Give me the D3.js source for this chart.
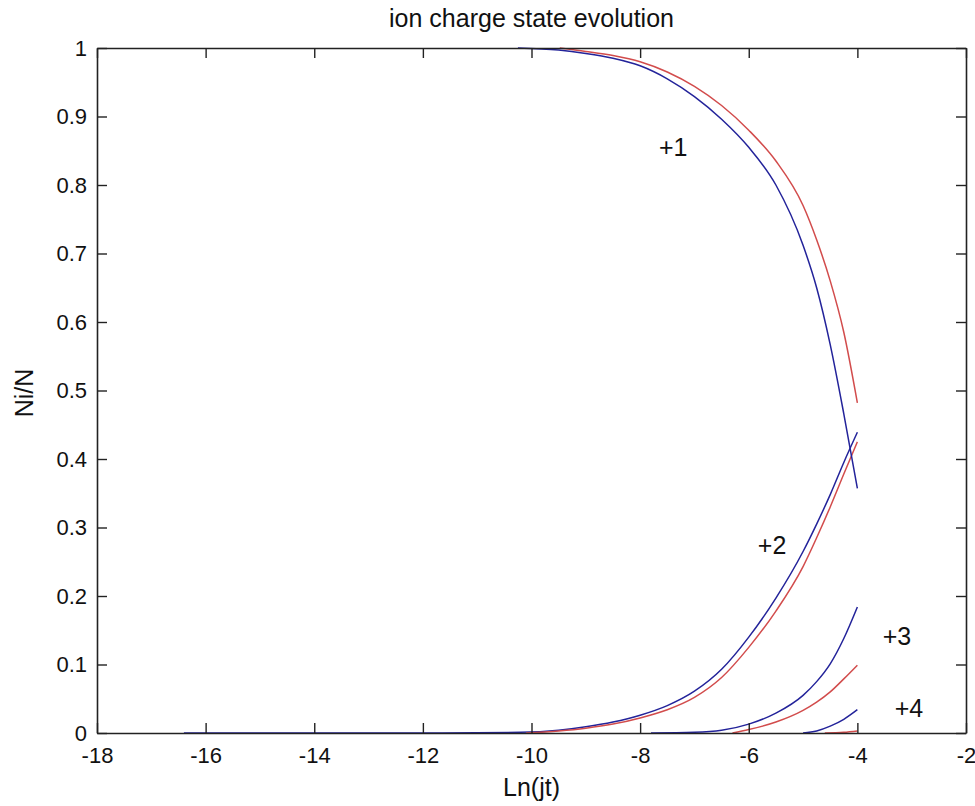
<!DOCTYPE html>
<html>
<head>
<meta charset="utf-8">
<script src="https://cdn.jsdelivr.net/npm/d3@7"></script>
<style>
  body { margin: 0; background: #fff; }
  text { font-family: "Liberation Sans", Arial, sans-serif; fill: #111; }
</style>
</head>
<body>
<div id="chart"></div>
<script>
// charge state fractions vs Ln(jt), blue and red runs
var blue1 = [[-10.25,1.0],[-9.5,0.997],[-9.0,0.992],[-8.5,0.985],[-8.0,0.974],[-7.5,0.955],[-7.0,0.929],[-6.5,0.896],[-6.0,0.855],[-5.5,0.80],[-5.0,0.712],[-4.75,0.65],[-4.5,0.567],[-4.25,0.466],[-4.0,0.357]];
var red1  = [[-9.48,1.0],[-9.0,0.995],[-8.5,0.989],[-8.0,0.98],[-7.5,0.965],[-7.0,0.944],[-6.5,0.916],[-6.0,0.88],[-5.5,0.835],[-5.0,0.77],[-4.75,0.72],[-4.5,0.66],[-4.25,0.585],[-4.0,0.482]];
var blue2 = [[-16.4,0.0],[-12.0,0.0],[-10.2,0.001],[-9.5,0.004],[-9.0,0.009],[-8.5,0.016],[-8.0,0.026],[-7.5,0.04],[-7.0,0.061],[-6.5,0.093],[-6.0,0.14],[-5.5,0.197],[-5.0,0.265],[-4.75,0.305],[-4.5,0.348],[-4.25,0.395],[-4.0,0.439]];
var red2  = [[-10.1,0.0],[-9.5,0.003],[-9.0,0.007],[-8.5,0.013],[-8.0,0.022],[-7.5,0.034],[-7.0,0.052],[-6.5,0.081],[-6.0,0.125],[-5.5,0.178],[-5.0,0.243],[-4.75,0.285],[-4.5,0.33],[-4.25,0.378],[-4.0,0.425]];
var blue3 = [[-7.8,0.0],[-7.0,0.001],[-6.5,0.004],[-6.0,0.013],[-5.5,0.029],[-5.0,0.055],[-4.75,0.075],[-4.5,0.101],[-4.25,0.138],[-4.0,0.184]];
var red3  = [[-6.3,0.0],[-6.0,0.005],[-5.5,0.016],[-5.0,0.033],[-4.75,0.045],[-4.5,0.06],[-4.25,0.079],[-4.0,0.099]];
var blue4 = [[-5.0,0.0],[-4.75,0.003],[-4.5,0.01],[-4.25,0.02],[-4.0,0.034]];
var red4  = [[-4.6,0.0],[-4.25,0.001],[-4.0,0.003]];

var labels = [["+1",-7.39,0.855],["+2",-5.57,0.274],["+3",-3.27,0.142],["+4",-3.05,0.0365]];
var xTicks = [-18,-16,-14,-12,-10,-8,-6,-4,-2];
var yTicks = [0,0.1,0.2,0.3,0.4,0.5,0.6,0.7,0.8,0.9,1];

(function() {
    var W = 975, H = 806;
    var mLeft = 97, mRight = 966, mTop = 48, mBottom = 733;

    var svg = d3.select("#chart").append("svg").attr("width", W).attr("height", H);
    svg.append("rect").attr("width", W).attr("height", H).attr("fill", "#fff");

    var x = d3.scaleLinear().domain([-18, -2]).range([mLeft, mRight]);
    var y = d3.scaleLinear().domain([0, 1]).range([mBottom, mTop]);

    var line = d3.line()
        .x(function(d) { return x(d[0]); })
        .y(function(d) { return y(d[1]); })
        .curve(d3.curveMonotoneX);

    var BLUE = "#23239a", RED = "#d24c4c";
    var series = [[blue2,BLUE],[red2,RED],[blue3,BLUE],[red3,RED],
                  [red4,RED],[blue4,BLUE],[red1,RED],[blue1,BLUE]];
    series.forEach(function(s) {
        svg.append("path").datum(s[0])
            .attr("d", line)
            .attr("fill", "none")
            .attr("stroke", s[1])
            .attr("stroke-width", 1.5);
    });

    function styleAxis(g) {
        g.select(".domain").attr("stroke", "#222").attr("stroke-width", 1.6);
        g.selectAll(".tick line").attr("stroke", "#222").attr("stroke-width", 1.4);
        g.selectAll(".tick text")
            .attr("font-size", 22)
            .attr("font-family", "Liberation Sans, Arial, sans-serif")
            .attr("fill", "#1a1a1a");
    }

    var fmt = function(d) { return String(+d.toFixed(1)); };

    svg.append("g").attr("transform", "translate(0," + mBottom + ")")
        .call(d3.axisBottom(x).tickValues(xTicks).tickFormat(fmt).tickSize(-10).tickPadding(14).tickSizeOuter(0))
        .call(styleAxis);
    svg.append("g").attr("transform", "translate(" + mLeft + ",0)")
        .call(d3.axisLeft(y).tickValues(yTicks).tickFormat(fmt).tickSize(-10).tickPadding(10).tickSizeOuter(0))
        .call(styleAxis);
    svg.append("g").attr("transform", "translate(0," + mTop + ")")
        .call(d3.axisTop(x).tickValues(xTicks).tickFormat("").tickSize(-10).tickSizeOuter(0))
        .call(styleAxis);
    svg.append("g").attr("transform", "translate(" + mRight + ",0)")
        .call(d3.axisRight(y).tickValues(yTicks).tickFormat("").tickSize(-10).tickSizeOuter(0))
        .call(styleAxis);

    labels.forEach(function(l) {
        svg.append("text")
            .attr("x", x(l[1]))
            .attr("y", y(l[2]))
            .attr("text-anchor", "middle")
            .attr("dy", "0.36em")
            .attr("font-size", 25)
            .text(l[0]);
    });

    svg.append("text")
        .attr("x", (mLeft + mRight) / 2)
        .attr("y", 27)
        .attr("text-anchor", "middle")
        .attr("font-size", 25)
        .text("ion charge state evolution");

    svg.append("text")
        .attr("x", (mLeft + mRight) / 2)
        .attr("y", 796)
        .attr("text-anchor", "middle")
        .attr("font-size", 25)
        .text("Ln(jt)");

    svg.append("text")
        .attr("transform", "translate(33,393) rotate(-90)")
        .attr("text-anchor", "middle")
        .attr("font-size", 25)
        .text("Ni/N");
})();
</script>
</body>
</html>
